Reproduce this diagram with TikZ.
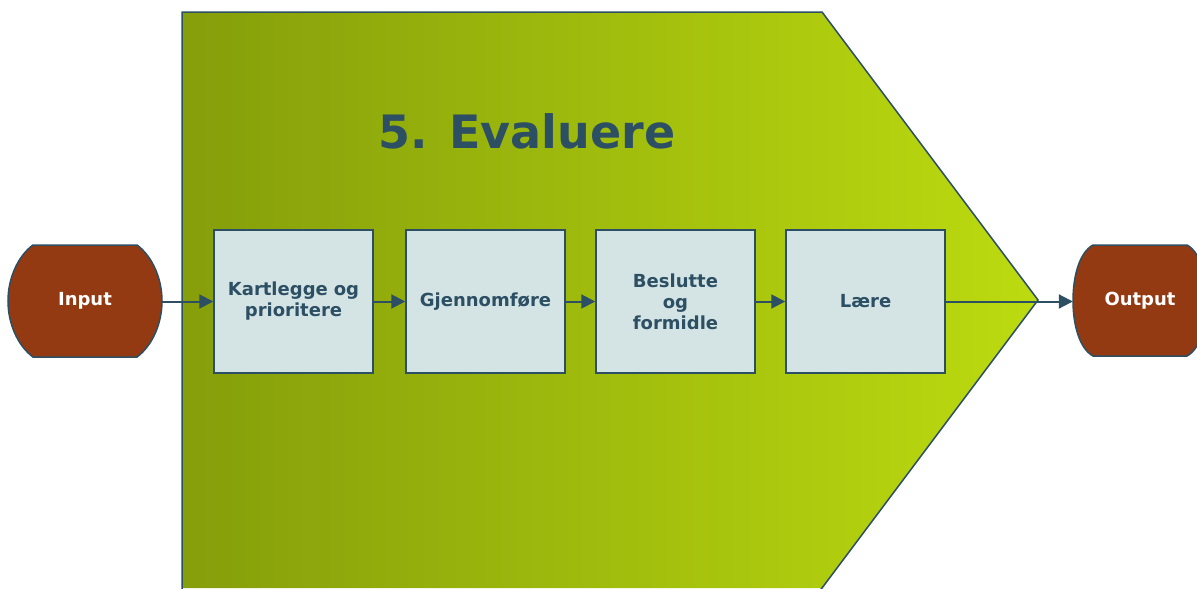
\documentclass[tikz,border=0pt]{standalone}
\usepackage{fontspec}
\setmainfont{DejaVu Sans}
\usetikzlibrary{arrows.meta}
\definecolor{edgeblue}{HTML}{2C4F64}
\definecolor{boxfill}{HTML}{D4E4E4}
\definecolor{rust}{HTML}{943A13}
\definecolor{oliveL}{HTML}{859E0B}
\definecolor{limeR}{HTML}{BCDB0F}
\tikzset{
  stepbox/.style={draw=edgeblue, line width=1.5pt, fill=boxfill, minimum width=159pt, minimum height=143pt,
    inner sep=2pt, text width=155pt, align=center, text=edgeblue, font=\bfseries\fontsize{18}{21}\selectfont},
  terminal/.style={minimum height=112pt, inner sep=0pt, text=white, font=\bfseries\fontsize{18}{20}\selectfont},
  termshape/.style={draw=edgeblue, line width=1.5pt, fill=rust},
  flow/.style={draw=edgeblue, line width=2pt, -{Triangle[length=14pt,width=14pt]}}
}
\begin{document}
\begin{tikzpicture}[x=1pt,y=-1pt]
\useasboundingbox (0,0) rectangle (1197,589);
\begin{scope}
\clip (0,0) rectangle (1197,589);
\shade[left color=oliveL, right color=limeR] (182,12) -- (822,12) -- (1038,300) -- (822,588) -- (182,588) -- cycle;
\draw[edgeblue, line width=1.5pt, line join=miter] (182,600) -- (182,12) -- (822,12) -- (1038,300) -- (822,588) -- (812,600);
\node[text=edgeblue, font=\bfseries\fontsize{46}{50}\selectfont] (title) at (527,131) {5. Evaluere};
\node[stepbox] (b1) at (293.5,301.5) {Kartlegge og\\prioritere};
\node[stepbox] (b2) at (485.5,301.5) {Gjennomføre};
\node[stepbox] (b3) at (675.5,301.5) {Beslutte\\og\\formidle};
\node[stepbox] (b4) at (865.5,301.5) {Lære};
% terminal outlines
\draw[termshape] (33,245) -- (137,245) .. controls (152,256) and (162,278) .. (162,301)
  .. controls (162,324) and (152,346) .. (137,357) -- (33,357)
  .. controls (18,346) and (8,324) .. (8,301) .. controls (8,278) and (18,256) .. (33,245) -- cycle;
\draw[termshape] (1093,245) -- (1187,245) .. controls (1200,252) and (1207,275) .. (1207,300.5)
  .. controls (1207,326) and (1200,349) .. (1187,356) -- (1093,356)
  .. controls (1080,349) and (1073,326) .. (1073,300.5) .. controls (1073,275) and (1080,252) .. (1093,245) -- cycle;
\node[terminal, minimum width=154pt] (in) at (85,301) {Input};
\node[terminal, minimum width=134pt, minimum height=111pt] (out) at (1140,300.5) {Output};
\draw[flow] (in.east |- b1.west) -- (b1.west);
\draw[flow] (b1) -- (b2);
\draw[flow] (b2) -- (b3);
\draw[flow] (b3) -- (b4);
\draw[flow] (b4.east) -- (out.west |- b4.east);
\end{scope}
\end{tikzpicture}
\end{document}
